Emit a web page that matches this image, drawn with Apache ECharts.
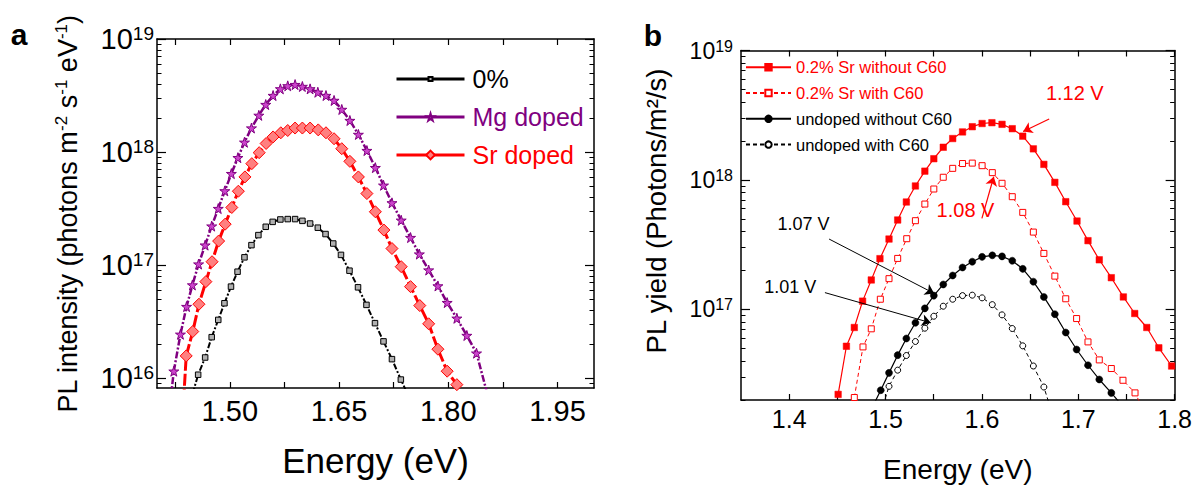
<!DOCTYPE html>
<html><head><meta charset="utf-8">
<script src="https://cdn.jsdelivr.net/npm/echarts@6/dist/echarts.min.js"></script>
<style>html,body{margin:0;padding:0;background:#fff}#c{width:1195px;height:489px}</style>
</head><body><div id="c"></div>
<script>
// ---------- Panel a data (Energy eV, PL intensity) ----------
const energyA_0 = [1.449,1.4565,1.4661,1.4751,1.4841,1.4926,1.5016,1.5106,1.5201,1.5297,1.5392,1.5493,1.5588,1.5694,1.5795,1.5896,1.5996,1.6102,1.6208,1.6314,1.6420,1.6526,1.6643,1.6760,1.6876,1.6993,1.7110,1.7226,1.7348,1.742];
const plA_0 = [7.3e15,1.07e16,1.52e16,2.30e16,3.27e16,4.59e16,6.44e16,8.73e16,1.17e17,1.50e17,1.84e17,2.18e17,2.41e17,2.53e17,2.55e17,2.55e17,2.46e17,2.33e17,2.14e17,1.88e17,1.55e17,1.23e17,8.91e16,6.35e16,4.44e16,3.06e16,2.11e16,1.47e16,9.7e15,7.7e15];
const energyA_Mg = [1.419,1.4231,1.4322,1.4406,1.4486,1.4571,1.4661,1.4751,1.4841,1.4931,1.5021,1.5111,1.5201,1.5297,1.5398,1.5493,1.5594,1.5694,1.5795,1.5896,1.5996,1.6102,1.6208,1.6320,1.6431,1.6537,1.6648,1.6765,1.6882,1.6998,1.7110,1.7226,1.7353,1.7481,1.7602,1.7730,1.7857,1.7984,1.8117,1.8254,1.8387,1.856];
const plA_Mg = [6.8e15,1.15e16,2.44e16,4.29e16,6.66e16,1.02e17,1.50e17,2.21e17,3.16e17,4.53e17,6.44e17,8.91e17,1.22e18,1.63e18,2.11e18,2.63e18,3.16e18,3.62e18,3.85e18,3.95e18,3.80e18,3.62e18,3.38e18,3.16e18,2.86e18,2.38e18,1.90e18,1.43e18,1.03e18,7.27e17,5.08e17,3.55e17,2.49e17,1.75e17,1.25e17,9.03e16,6.53e16,4.65e16,3.38e16,2.38e16,1.66e16,6.3e15];
const energyA_Sr = [1.4365,1.4401,1.4491,1.4576,1.4671,1.4756,1.4846,1.4936,1.5027,1.5117,1.5207,1.5302,1.5403,1.5498,1.5594,1.5700,1.5795,1.5896,1.5996,1.6102,1.6214,1.6320,1.6431,1.6537,1.6648,1.6765,1.6882,1.6998,1.7115,1.7226,1.7353,1.7481,1.7608,1.7730,1.7857,1.7984,1.8117];
const plA_Sr = [6.3e15,1.57e16,2.58e16,4.50e16,7.13e16,1.07e17,1.63e17,2.30e17,3.23e17,4.50e17,6.02e17,7.89e17,9.87e17,1.19e18,1.36e18,1.48e18,1.55e18,1.63e18,1.63e18,1.63e18,1.57e18,1.48e18,1.31e18,1.07e18,8.27e17,6.02e17,4.29e17,2.96e17,2.04e17,1.40e17,9.67e16,6.44e16,4.38e16,3.02e16,1.80e16,1.15e16,8.74e15];
const namesA = ['0%','Mg doped','Sr doped'];

// ---------- Panel b data (Energy eV, PL yield) ----------
const energyB_SrNo = [1.4508,1.4594,1.4676,1.4762,1.4852,1.4942,1.5036,1.5126,1.5216,1.5310,1.5408,1.5501,1.5599,1.5697,1.5799,1.5900,1.6002,1.6104,1.6209,1.6315,1.6424,1.6534,1.6643,1.6757,1.6870,1.6987,1.7101,1.7218,1.7343,1.7468,1.7586,1.7711,1.7836,1.7969];
const plB_SrNo = [2.21e16,5.20e16,7.26e16,1.16e17,1.69e17,2.47e17,3.50e17,4.91e17,6.76e17,8.99e17,1.17e18,1.46e18,1.79e18,2.09e18,2.35e18,2.58e18,2.73e18,2.77e18,2.69e18,2.49e18,2.18e18,1.74e18,1.32e18,9.59e17,6.80e17,4.82e17,3.40e17,2.42e17,1.76e17,1.25e17,9.31e16,7.26e16,5.06e16,3.66e16];
const energyB_SrC = [1.4676,1.4766,1.4852,1.4946,1.5036,1.5126,1.5220,1.5310,1.5408,1.5501,1.5599,1.5697,1.5799,1.5900,1.6002,1.6108,1.6209,1.6315,1.6424,1.6534,1.6643,1.6757,1.6870,1.6983,1.7101,1.7218,1.7343,1.7464,1.7589,1.766];
const plB_SrC = [2.09e16,5.14e16,7.09e16,1.20e17,1.73e17,2.48e17,3.52e17,4.85e17,6.52e17,8.52e17,1.05e18,1.23e18,1.34e18,1.35e18,1.29e18,1.14e18,9.43e17,7.43e17,5.62e17,3.96e17,2.71e17,1.81e17,1.21e17,8.51e16,5.62e16,4.08e16,3.50e16,2.84e16,2.27e16,1.78e16];
const energyB_UnNo = [1.487,1.4950,1.5036,1.5126,1.5216,1.5310,1.5408,1.5501,1.5599,1.5697,1.5799,1.5900,1.6002,1.6108,1.6209,1.6315,1.6424,1.6534,1.6643,1.6757,1.6870,1.6983,1.7101,1.7218,1.7343,1.745];
const plB_UnNo = [1.8e16,2.38e16,3.24e16,4.44e16,5.97e16,7.89e16,1.02e17,1.28e17,1.56e17,1.83e17,2.11e17,2.34e17,2.55e17,2.62e17,2.57e17,2.38e17,2.06e17,1.64e17,1.25e17,9.20e16,6.64e16,4.91e16,3.71e16,2.88e16,2.27e16,1.83e16];
const energyB_UnC = [1.4975,1.5036,1.5126,1.5216,1.5310,1.5408,1.5501,1.5599,1.5697,1.5799,1.5900,1.6002,1.6108,1.6209,1.6315,1.6424,1.6534,1.6643,1.6705];
const plB_UnC = [1.82e16,2.55e16,3.40e16,4.41e16,5.66e16,7.17e16,8.87e16,1.06e17,1.20e17,1.28e17,1.29e17,1.23e17,1.09e17,9.09e16,7.13e16,5.24e16,3.66e16,2.52e16,1.8e16];
const namesB = ['0.2% Sr without C60','0.2% Sr with C60','undoped without C60','undoped with C60'];

// annotations (panel b): label text, label position, arrow start, arrow end (data units)
const annoTextB  = ['1.12 V','1.08 V','1.07 V','1.01 V'];
const annoLabelB = [[1.6964,4.68e18],[1.583,5.86e17],[1.4149,4.57e17],[1.4012,1.48e17]];
const annoFromB  = [[1.6698,2.96e18],[1.6000,5.06e17],[1.4414,3.50e17],[1.4371,1.35e17]];
const annoToB    = [[1.6428,2.37e18],[1.6123,1.06e18],[1.5505,1.33e17],[1.5470,7.89e16]];

// axis ranges and ticks
const xRangeA = [1.40, 2.00], xLabelsA = [1.50,1.65,1.80,1.95], xTicksA = [1.425,1.50,1.575,1.65,1.725,1.80,1.875,1.95];
const xRangeB = [1.35, 1.80], xLabelsB = [1.4,1.5,1.6,1.7,1.8], xTicksB = [1.40,1.45,1.50,1.55,1.60,1.65,1.70,1.75,1.80];
const yRangeA = [Math.pow(10,15.912), 1e19], yDecadesA = [16,17,18,19];
const yRangeB = [2e16, 1e19], yDecadesB = [17,18,19];

const FONT = '"Liberation Sans",Arial,sans-serif';
const STAR = 'path://M50,0 L61,35 L98,35 L68,57 L79,91 L50,70 L21,91 L32,57 L2,35 L39,35 Z';

function pairs(xs, ys){ return xs.map((x,i)=>[x, ys[i]]); }
function minorLog(lo, hi){ const o=[]; for(let d=Math.floor(lo); d<hi; d++){ for(let k=2;k<=9;k++){ const v=d+Math.log10(k); if(v>=lo&&v<=hi) o.push(v);} } return o; }

function xAxes(grid, range, ticks, labels, dec, labelSize, margin, name, nameSize, nameGap){
  const line = {show:true, onZero:false, lineStyle:{color:'#000', width:1.5}};
  const tick = {show:true, inside:true, length:6, customValues:ticks, lineStyle:{color:'#000', width:1.2}};
  return [
    {gridIndex:grid, type:'value', min:range[0], max:range[1], position:'bottom', axisLine:line, axisTick:tick,
     splitLine:{show:false},
     axisLabel:{customValues:labels, formatter:v=>v.toFixed(dec), fontSize:labelSize, fontFamily:FONT, color:'#000', margin:margin},
     name:name, nameLocation:'middle', nameGap:nameGap, nameTextStyle:{fontSize:nameSize, fontFamily:FONT, color:'#000'}},
    {gridIndex:grid, type:'value', min:range[0], max:range[1], position:'top', axisLine:line, axisTick:tick,
     splitLine:{show:false}, axisLabel:{show:false}}
  ];
}
function yAxes(grid, range, decades, baseSize, supSize, margin){
  const lo = Math.log10(range[0]), hi = Math.log10(range[1]);
  const minors = minorLog(lo, hi);
  const line = {show:true, onZero:false, lineStyle:{color:'#000', width:1.5}};
  const base = {gridIndex:grid, type:'value', min:lo, max:hi, splitLine:{show:false}};
  return [
    {gridIndex:grid, type:'log', min:range[0], max:range[1], show:false},
    Object.assign({}, base, {position:'left', axisLine:line,
      axisTick:{inside:true, length:9, customValues:decades, lineStyle:{color:'#000', width:1.2}},
      axisLabel:{customValues:decades, margin:margin, formatter:v=>'{b|10}{s|'+Math.round(v)+'}',
        rich:{b:{fontSize:baseSize, fontFamily:FONT, color:'#000', lineHeight:baseSize+2},
              s:{fontSize:supSize, fontFamily:FONT, color:'#000', verticalAlign:'top', lineHeight:supSize}}}}),
    Object.assign({}, base, {position:'left', axisLine:{show:false},
      axisTick:{inside:true, length:4.5, customValues:minors, lineStyle:{color:'#000', width:1}}, axisLabel:{show:false}}),
    Object.assign({}, base, {position:'right', axisLine:line,
      axisTick:{inside:true, length:9, customValues:decades, lineStyle:{color:'#000', width:1.2}}, axisLabel:{show:false}}),
    Object.assign({}, base, {position:'right', axisLine:{show:false},
      axisTick:{inside:true, length:4.5, customValues:minors, lineStyle:{color:'#000', width:1}}, axisLabel:{show:false}})
  ];
}

const xAxis = [].concat(
  xAxes(0, xRangeA, xTicksA, xLabelsA, 2, 29, 8, 'Energy (eV)', 35, 55),
  xAxes(1, xRangeB, xTicksB, xLabelsB, 1, 25, 6, 'Energy (eV)', 28, 55)
);
const yAxis = [].concat(
  yAxes(0, yRangeA, yDecadesA, 29, 19, 3),
  yAxes(1, yRangeB, yDecadesB, 23, 16, 8)
);

const base = {type:'line', showSymbol:true, showAllSymbol:true, clip:true, animation:false, z:3};
const series = [
  Object.assign({}, base, {name:namesA[0], xAxisIndex:0, yAxisIndex:0, data:pairs(energyA_0, plA_0),
    symbol:'rect', symbolSize:5.5, lineStyle:{color:'#000', width:2, type:[6,2,2,2]},
    itemStyle:{color:'#b0b0b0', borderColor:'#000', borderWidth:1}}),
  Object.assign({}, base, {name:namesA[1], xAxisIndex:0, yAxisIndex:0, data:pairs(energyA_Mg, plA_Mg),
    symbol:STAR, symbolSize:10, lineStyle:{color:'#800080', width:2.5, type:[7,2,2,2]},
    itemStyle:{color:'#cc44cc', borderColor:'#800080', borderWidth:1}}),
  Object.assign({}, base, {name:namesA[2], xAxisIndex:0, yAxisIndex:0, data:pairs(energyA_Sr, plA_Sr),
    symbol:'diamond', symbolSize:12, lineStyle:{color:'#ff0000', width:3, type:[12,3]},
    itemStyle:{color:'#ff8080', borderColor:'#ff0000', borderWidth:1}}),

  Object.assign({}, base, {name:namesB[0], xAxisIndex:2, yAxisIndex:5, data:pairs(energyB_SrNo, plB_SrNo),
    symbol:'rect', symbolSize:6.5, lineStyle:{color:'#ff0000', width:1.2, type:'solid'},
    itemStyle:{color:'#ff0000', borderColor:'#ff0000', borderWidth:0.5},
    markLine:{silent:true, animation:false, symbol:['none','arrow'], symbolSize:9, label:{show:false},
      lineStyle:{color:'#ff0000', width:1.2, type:'solid'},
      data:[0,1].map(i=>[{coord:annoFromB[i]},{coord:annoToB[i]}])},
    markPoint:{silent:true, animation:false, symbol:'rect', symbolSize:1, itemStyle:{color:'rgba(0,0,0,0)'},
      label:{show:true, position:'inside', formatter:'{b}', color:'#ff0000', fontSize:20, fontFamily:FONT},
      data:[0,1].map(i=>({name:annoTextB[i], coord:annoLabelB[i]}))}}),
  Object.assign({}, base, {name:namesB[1], xAxisIndex:2, yAxisIndex:5, data:pairs(energyB_SrC, plB_SrC),
    symbol:'rect', symbolSize:6, lineStyle:{color:'#ff0000', width:1, type:[4,3]},
    itemStyle:{color:'#ffffff', borderColor:'#ff0000', borderWidth:1}}),
  Object.assign({}, base, {name:namesB[2], xAxisIndex:2, yAxisIndex:5, data:pairs(energyB_UnNo, plB_UnNo),
    symbol:'circle', symbolSize:7, lineStyle:{color:'#000', width:1.2, type:'solid'},
    itemStyle:{color:'#000', borderColor:'#000', borderWidth:0.5},
    markLine:{silent:true, animation:false, symbol:['none','arrow'], symbolSize:9, label:{show:false},
      lineStyle:{color:'#000', width:1, type:'solid'},
      data:[2,3].map(i=>[{coord:annoFromB[i]},{coord:annoToB[i]}])},
    markPoint:{silent:true, animation:false, symbol:'rect', symbolSize:1, itemStyle:{color:'rgba(0,0,0,0)'},
      label:{show:true, position:'inside', formatter:'{b}', color:'#000', fontSize:18, fontFamily:FONT},
      data:[2,3].map(i=>({name:annoTextB[i], coord:annoLabelB[i]}))}}),
  Object.assign({}, base, {name:namesB[3], xAxisIndex:2, yAxisIndex:5, data:pairs(energyB_UnC, plB_UnC),
    symbol:'circle', symbolSize:6, lineStyle:{color:'#000', width:1, type:[4,3]},
    itemStyle:{color:'#ffffff', borderColor:'#000', borderWidth:1}})
];

const legendA = [
  {name:namesA[0], color:'#000', h:5, top:64},
  {name:namesA[1], color:'#800080', h:9, top:102},
  {name:namesA[2], color:'#ff0000', h:11, top:140}
].map(o=>({orient:'vertical', left:395, top:o.top, padding:0, itemWidth:68, itemHeight:o.h,
  lineStyle:{type:'solid', width:3}, selectedMode:false,
  textStyle:{fontSize:25, lineHeight:30, fontFamily:FONT, color:o.color, padding:[0,0,0,3]},
  data:[o.name]}));
const legendB = {orient:'vertical', left:745, top:58.7, padding:0, itemWidth:45, itemHeight:8, itemGap:8.8,
  selectedMode:false, textStyle:{fontSize:16.5, lineHeight:16.5, fontFamily:FONT},
  data:namesB.map((n,i)=>({name:n, textStyle:{color: i<2 ? '#ff0000' : '#000'}}))};

const option = {
  animation:false,
  backgroundColor:'#fff',
  textStyle:{fontFamily:FONT},
  grid:[{left:157, top:39, width:437, height:349}, {left:741, top:50.5, width:436, height:349.5}],
  legend: legendA.concat([legendB]),
  xAxis, yAxis, series,
  graphic:[
    {type:'text', x:19, y:34, style:{text:'a', font:'bold 30px '+FONT, fill:'#000', align:'center', verticalAlign:'middle'}},
    {type:'text', x:653, y:35, style:{text:'b', font:'bold 30px '+FONT, fill:'#000', align:'center', verticalAlign:'middle'}},
    {type:'text', x:68, y:214, rotation:Math.PI/2,
      style:{text:'PL intensity (photons m{s|-2} s{s|-1} eV{s|-1})', fontSize:27, fontFamily:FONT, fill:'#000',
        lineHeight:31, align:'center', verticalAlign:'middle',
        rich:{s:{fontSize:17, fontFamily:FONT, fill:'#000', verticalAlign:'top', lineHeight:18}}}},
    {type:'text', x:656, y:211, rotation:Math.PI/2,
      style:{text:'PL yield (Photons/m²/s)', fontSize:27.5, fontFamily:FONT, fill:'#000',
        align:'center', verticalAlign:'middle'}}
  ]
};
const chart = echarts.init(document.getElementById('c'), null, {renderer:'svg'});
chart.setOption(option);
</script>
</body></html>
